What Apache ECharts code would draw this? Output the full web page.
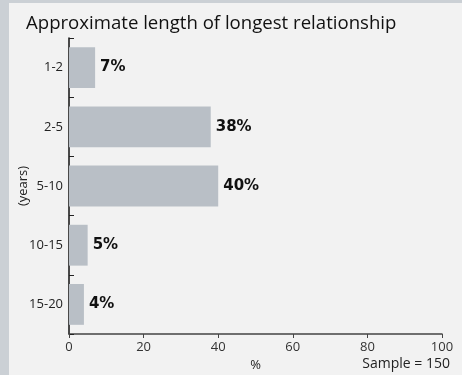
<!DOCTYPE html>
<html>
<head>
<meta charset="utf-8">
<script src="https://cdn.jsdelivr.net/npm/echarts@6/dist/echarts.min.js"></script>
<style>
  html, body { margin: 0; padding: 0; background: #cbd0d5; }
  #frame { position: absolute; left: 9px; top: 3px; width: 453px; height: 372px; background: #f2f2f2; }
  #chart { position: absolute; left: 0; top: 0; width: 462px; height: 375px; }
</style>
</head>
<body>
<div id="frame"></div>
<div id="chart"></div>
<script>
// Relationship length bands (years) and share of respondents (%)
const categories = ['1-2', '2-5', '5-10', '10-15', '15-20'];
const shares = [7, 38, 40, 5, 4];
const xTicks = [0, 20, 40, 60, 80, 100];

const chart = echarts.init(document.getElementById('chart'), null, { renderer: 'canvas' });
const font = '"Open Sans", "Noto Sans", sans-serif';

chart.setOption({
  backgroundColor: 'transparent',
  animation: false,
  title: {
    text: 'Approximate length of longest relationship',
    left: 21, top: 9,
    textStyle: { fontFamily: font, fontSize: 18.6, fontWeight: 'normal', color: '#111' }
  },
  graphic: [{
    type: 'text', right: 12, top: 357,
    style: { text: 'Sample = 150', font: '14px ' + font, fill: '#222' }
  }],
  grid: { left: 69, right: 20, top: 38, bottom: 41, outerBoundsMode: 'none' },
  xAxis: {
    type: 'value', min: xTicks[0], max: xTicks[xTicks.length - 1], interval: 20,
    name: '%', nameLocation: 'middle', nameGap: 23,
    nameTextStyle: { fontFamily: font, fontSize: 13, color: '#222' },
    axisLine: { show: true, lineStyle: { color: '#444', width: 1.5 } },
    axisTick: { show: true, length: 4, lineStyle: { color: '#444' } },
    axisLabel: { fontFamily: font, fontSize: 13, color: '#333', margin: 7 },
    splitLine: { show: false }
  },
  yAxis: {
    type: 'category', data: categories, inverse: true,
    name: '(years)', nameLocation: 'middle', nameGap: 39, nameRotate: 90,
    nameMoveOverlap: false,
    nameTextStyle: { fontFamily: font, fontSize: 13, color: '#222' },
    axisLine: { show: true, lineStyle: { color: '#111', width: 1.5 } },
    axisTick: { show: true, inside: true, length: 5, lineStyle: { color: '#222' } },
    axisLabel: { fontFamily: font, fontSize: 13, color: '#222', margin: 6 }
  },
  series: [{
    type: 'bar',
    data: shares,
    barWidth: '69%',
    itemStyle: { color: '#b9bfc6' },
    label: {
      show: true, position: 'right', distance: 5,
      formatter: p => p.value + '%',
      fontFamily: '"DejaVu Sans", sans-serif', fontWeight: 'bold', fontSize: 15, color: '#111'
    }
  }]
});
</script>
</body>
</html>
